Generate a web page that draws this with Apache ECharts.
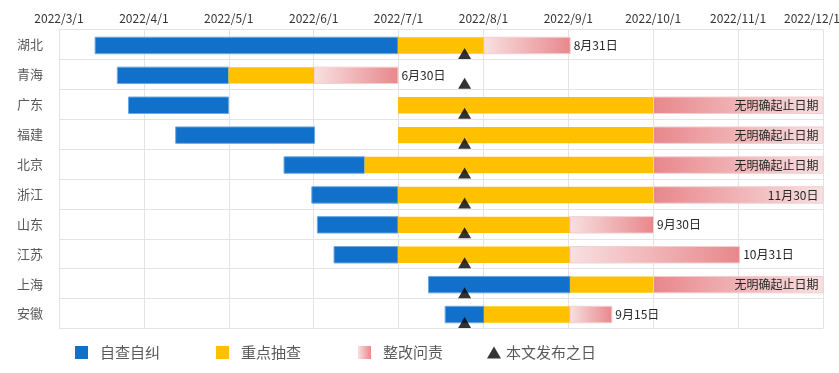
<!DOCTYPE html>
<html><head><meta charset="utf-8">
<script src="https://cdn.jsdelivr.net/npm/echarts@6/dist/echarts.min.js"></script>
<style>html,body{margin:0;padding:0;background:#fff}#c{width:839px;height:373px}</style>
</head><body><div id="c"></div>
<script>
const categories = ['湖北','青海','广东','福建','北京','浙江','山东','江苏','上海','安徽'];
const xTickLabels = ['2022/3/1','2022/4/1','2022/5/1','2022/6/1','2022/7/1','2022/8/1','2022/9/1','2022/10/1','2022/11/1','2022/12/1'];
const selfStart  = ['2022-03-14','2022-03-22','2022-03-26','2022-04-12','2022-05-21','2022-05-31','2022-06-02','2022-06-08','2022-07-12','2022-07-18'];
const selfEnd    = ['2022-07-01','2022-05-01','2022-05-01','2022-06-01','2022-06-19','2022-07-01','2022-07-01','2022-07-01','2022-09-01','2022-08-01'];
const checkStart = ['2022-07-01','2022-05-01','2022-07-01','2022-07-01','2022-06-19','2022-07-01','2022-07-01','2022-07-01','2022-09-01','2022-08-01'];
const checkEnd   = ['2022-08-01','2022-06-01','2022-10-01','2022-10-01','2022-10-01','2022-10-01','2022-09-01','2022-09-01','2022-10-01','2022-09-01'];
const fixStart   = ['2022-08-01','2022-06-01','2022-10-01','2022-10-01','2022-10-01','2022-10-01','2022-09-01','2022-09-01','2022-10-01','2022-09-01'];
const fixEnd     = ['2022-09-01','2022-07-01','2022-12-01','2022-12-01','2022-12-01','2022-12-01','2022-10-01','2022-11-01','2022-12-01','2022-09-16'];
const fixLabels  = ['8月31日','6月30日','无明确起止日期','无明确起止日期','无明确起止日期','11月30日','9月30日','10月31日','无明确起止日期','9月15日'];
const fixOpen    = [false,false,true,true,true,true,false,false,true,false];
const publishDate = '2022-07-25';
const seriesNames = ['自查自纠','重点抽查','整改问责','本文发布之日'];

const DAY0 = Date.UTC(2022,2,1);
function toMin(s){ const p = s.split('-').map(Number); return (Date.UTC(p[0],p[1]-1,p[2]) - DAY0)/60000; }
const AX_MAX = toMin('2022-12-01');
const AX_INT = AX_MAX/9;

const BLUE = '#1170c9', YELLOW = '#ffc000', PINK_L = '#f8e0e1', PINK_D = '#e8878b';
function grad(open){
  return new echarts.graphic.LinearGradient(0,0,1,0, open ?
    [{offset:0,color:PINK_D},{offset:1,color:PINK_L}] :
    [{offset:0,color:PINK_L},{offset:1,color:PINK_D}]);
}

function mk(starts, ends){ return categories.map((c,i)=>[i, toMin(starts[i]), toMin(ends[i])]); }

function render(kind){
  return function(params, api){
    const c = api.value(0);
    const a = api.coord([api.value(1), c]);
    const b = api.coord([api.value(2), c]);
    const h = api.size([0,1])[1]*0.55;
    const i = params.dataIndex;
    const el = {type:'rect', shape:{x:a[0], y:a[1]-h/2+1, width:b[0]-a[0], height:h}, style:{}};
    if (kind === 0) { el.style = {fill:BLUE, stroke:'#6ea8e0', lineWidth:1}; }
    else if (kind === 1) { el.style = {fill:YELLOW}; }
    else {
      el.style = {fill:grad(fixOpen[i]), stroke:'#f3cfd1', lineWidth:1};
      el.textContent = {style:{text:fixLabels[i], fill:'#262626', fontSize:12, fontFamily:'Noto Sans CJK SC'}};
      el.textConfig = {position: fixOpen[i] ? 'insideRight' : 'right', distance: fixOpen[i] ? 5 : 3};
    }
    return el;
  };
}

const chart = echarts.init(document.getElementById('c'));
const legendText = {color:'#595959', fontSize:15, fontFamily:'Noto Sans CJK SC'};
chart.setOption({
  animation:false,
  textStyle:{fontFamily:'Noto Sans CJK SC'},
  grid:{left:59, right:16, top:29.5, bottom:44.5, containLabel:false, outerBoundsMode:'none'},
  xAxis:{type:'value', position:'top', min:0, max:AX_MAX, interval:AX_INT,
    axisLine:{show:false}, axisTick:{show:false},
    splitLine:{show:true, lineStyle:{color:'#e3e3e3'}},
    axisLabel:{color:'#333333', fontSize:12, margin:5, showMinLabel:true, showMaxLabel:true,
      rich:{last:{color:'#333333', fontSize:12, padding:[0,22,0,0]}},
      formatter:v=>{ const k = Math.round(v/AX_INT); return k === xTickLabels.length-1 ? '{last|'+xTickLabels[k]+'}' : xTickLabels[k]; }}},
  yAxis:{type:'category', data:categories, inverse:true,
    axisLine:{show:true, lineStyle:{color:'#e3e3e3'}}, axisTick:{show:false},
    splitLine:{show:true, lineStyle:{color:'#e3e3e3'}},
    axisLabel:{color:'#595959', fontSize:13, margin:16}},
  legend:[
    {data:[{name:seriesNames[0], icon:'rect', itemStyle:{color:BLUE}}], left:70, top:340, itemWidth:13, itemHeight:13, textStyle:Object.assign({padding:[0,0,0,7]},legendText)},
    {data:[{name:seriesNames[1], icon:'rect', itemStyle:{color:YELLOW}}], left:211, top:340, itemWidth:13, itemHeight:13, textStyle:Object.assign({padding:[0,0,0,7]},legendText)},
    {data:[{name:seriesNames[2], icon:'rect', itemStyle:{color:grad(false)}}], left:353, top:340, itemWidth:13, itemHeight:13, textStyle:Object.assign({padding:[0,0,0,7]},legendText)},
    {data:[{name:seriesNames[3], icon:'triangle', itemStyle:{color:'#000'}}], left:482, top:340, itemWidth:14, itemHeight:12, textStyle:legendText}
  ],
  series:[
    {name:seriesNames[0], type:'custom', renderItem:render(0), encode:{x:[1,2], y:0}, data:mk(selfStart, selfEnd), itemStyle:{color:BLUE}},
    {name:seriesNames[1], type:'custom', renderItem:render(1), encode:{x:[1,2], y:0}, data:mk(checkStart, checkEnd), itemStyle:{color:YELLOW}},
    {name:seriesNames[2], type:'custom', renderItem:render(2), encode:{x:[1,2], y:0}, data:mk(fixStart, fixEnd), itemStyle:{color:PINK_D}},
    {name:seriesNames[3], type:'scatter', symbol:'triangle', symbolSize:[13,11], symbolOffset:[0,9], itemStyle:{color:'#000'}, z:10,
      data:categories.map((c,i)=>[toMin(publishDate), i])}
  ]
});
</script></body></html>
